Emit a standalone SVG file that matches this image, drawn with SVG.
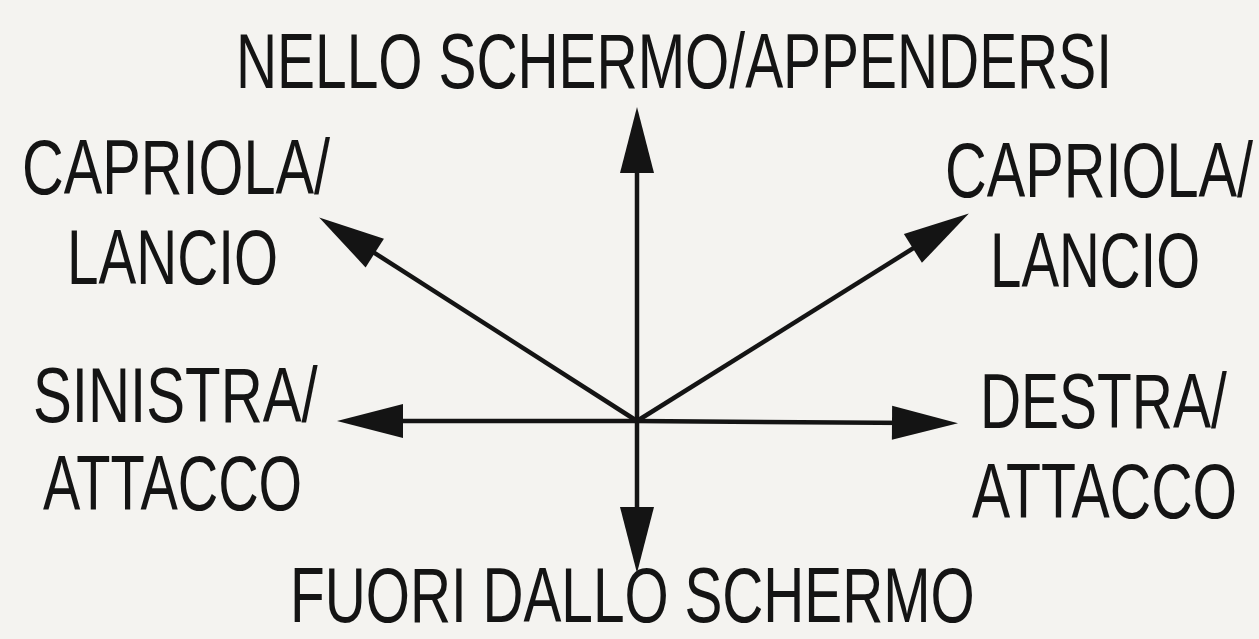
<svg xmlns="http://www.w3.org/2000/svg" width="1259" height="639" viewBox="0 0 1259 639">
  <style>
    .lbl { font-family: "Liberation Sans", Arial, sans-serif; font-size: 78px; fill: #141414; }
    .conn { stroke: #141414; stroke-width: 4.5; fill: none; marker-end: url(#head); }
  </style>
  <defs>
    <marker id="head" markerUnits="userSpaceOnUse" markerWidth="66" markerHeight="34" refX="25" refY="17" orient="auto" overflow="visible">
      <path d="M0,0 L66,17 L0,34 Z" fill="#141414"/>
    </marker>
  </defs>
  <rect width="1259" height="639" fill="#f4f3f0"/>
  <g id="connectors">
    <line class="conn" x1="637" y1="421" x2="637" y2="148"/>
    <line class="conn" x1="637" y1="421" x2="637" y2="532"/>
    <line class="conn" x1="637" y1="421" x2="378" y2="421"/>
    <line class="conn" x1="637" y1="421" x2="917" y2="423"/>
    <line class="conn" x1="637" y1="421" x2="353.7" y2="239.6"/>
    <line class="conn" x1="637" y1="421" x2="934.1" y2="235.2"/>
  </g>
  <g id="node-up">
    <text class="lbl" transform="translate(236 88) scale(0.73 1)" textLength="1200" lengthAdjust="spacingAndGlyphs">NELLO SCHERMO/APPENDERSI</text>
  </g>
  <g id="node-up-left">
    <text class="lbl" transform="translate(22 194) scale(0.73 1)" textLength="422" lengthAdjust="spacingAndGlyphs">CAPRIOLA/</text>
    <text class="lbl" transform="translate(67 284) scale(0.73 1)" textLength="289" lengthAdjust="spacingAndGlyphs">LANCIO</text>
  </g>
  <g id="node-up-right">
    <text class="lbl" transform="translate(945 197) scale(0.73 1)" textLength="422" lengthAdjust="spacingAndGlyphs">CAPRIOLA/</text>
    <text class="lbl" transform="translate(990 287) scale(0.73 1)" textLength="288" lengthAdjust="spacingAndGlyphs">LANCIO</text>
  </g>
  <g id="node-left">
    <text class="lbl" transform="translate(33 422) scale(0.73 1)" textLength="390" lengthAdjust="spacingAndGlyphs">SINISTRA/</text>
    <text class="lbl" transform="translate(43 510) scale(0.73 1)" textLength="355" lengthAdjust="spacingAndGlyphs">ATTACCO</text>
  </g>
  <g id="node-right">
    <text class="lbl" transform="translate(980 428) scale(0.73 1)" textLength="338" lengthAdjust="spacingAndGlyphs">DESTRA/</text>
    <text class="lbl" transform="translate(972 518) scale(0.73 1)" textLength="363" lengthAdjust="spacingAndGlyphs">ATTACCO</text>
  </g>
  <g id="node-down">
    <text class="lbl" transform="translate(290 622) scale(0.73 1)" textLength="938" lengthAdjust="spacingAndGlyphs">FUORI DALLO SCHERMO</text>
  </g>
</svg>
